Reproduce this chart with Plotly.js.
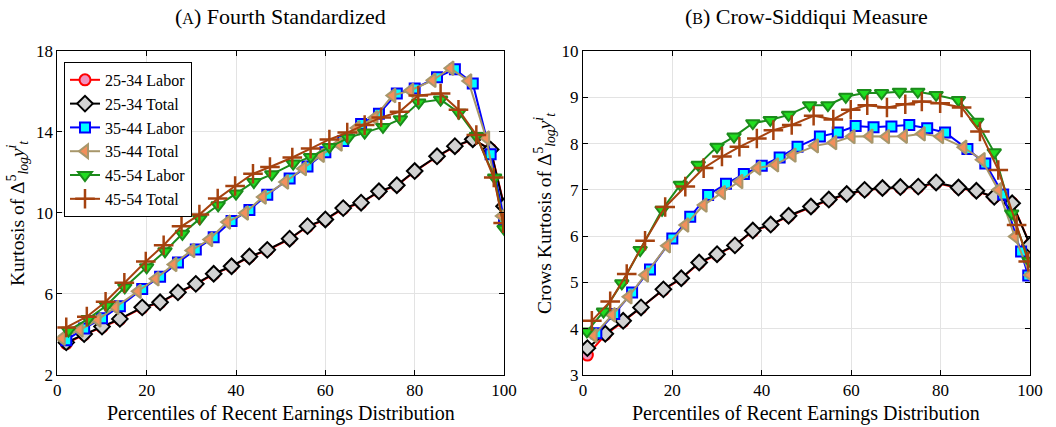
<!DOCTYPE html>
<html><head><meta charset="utf-8">
<script src="https://cdn.plot.ly/plotly-3.0.1.min.js"></script>
<style>html,body{margin:0;padding:0;background:#fff}#chart{width:1056px;height:427px}</style>
</head><body><div id="chart"></div>
<script>
// ---------- Panel A: Fourth Standardized ----------
const seriesNames = ["25-34 Labor","25-34 Total","35-44 Labor","35-44 Total","45-54 Labor","45-54 Total"];
const xTickVals = [0,20,40,60,80,100];
const yTickValsA = [2,6,10,14,18];
const yTickValsB = [3,4,5,6,7,8,9,10];

const A_x_2534 = [2,6,10,14,19,23,27,31,35,39,43,47,52,56,60,64,68,72,76,80,85,89,93,97,100];
const A_lab2534 = [3.55,3.99,4.36,4.75,5.31,5.57,6.06,6.48,6.98,7.35,7.83,8.16,8.71,9.33,9.66,10.22,10.49,11.05,11.35,12.05,12.78,13.28,13.62,13.15,10.40];
const A_tot2534 = [3.61,4.02,4.39,4.77,5.34,5.59,6.08,6.50,7.00,7.37,7.85,8.18,8.73,9.35,9.68,10.24,10.51,11.07,11.37,12.07,12.80,13.30,13.64,13.13,10.33];
const A_lab3544 = [3.72,4.30,4.80,5.40,6.25,6.85,7.55,8.20,8.80,9.60,10.15,10.90,11.70,12.30,13.00,13.55,14.40,14.90,15.90,16.15,16.70,17.10,16.40,12.90,9.70];
const A_x_3544t = [1,5,9,13,18,22,26,30,34,38,42,46,51,55,59,63,67,71,75,79,84,88,92,96,99.5];
const A_tot3544 = [3.81,4.22,4.72,5.34,6.13,6.75,7.46,8.15,8.69,9.55,10.00,10.79,11.53,12.19,12.85,13.40,14.20,14.70,15.80,16.05,16.55,17.15,16.52,13.70,9.85];
const A_x_4554l = [2.5,6.9,11,15.1,20,24.1,28,31.9,36,40,44,48,52.8,56.7,60.9,65.1,68.8,72.9,76.8,80.9,85.8,89.9,93.8,97.9,100];
const A_lab4554 = [4.19,4.77,5.43,6.33,7.32,8.11,8.97,9.72,10.38,10.96,11.53,11.91,12.44,12.77,13.26,13.71,13.97,14.25,14.63,15.45,15.60,14.95,13.80,11.75,9.22];
const A_x_4554t = [2,6.6,10.8,15,19.8,23.8,27.8,31.8,35.9,39.8,43.8,47.6,52.6,56.7,60.9,64.9,68.8,72.5,76.6,80.8,85.8,89.8,93.8,97.7,99.8];
const A_tot4554 = [4.35,4.88,5.62,6.55,7.60,8.41,9.34,9.92,10.71,11.33,11.94,12.27,12.74,13.18,13.63,13.97,14.34,14.72,15.00,15.80,15.90,15.10,13.85,11.75,9.50];

// ---------- Panel B: Crow-Siddiqui Measure ----------
const B_x_2534 = [1,5,9,13,18,22,26,30,34,38,42,46,51,55,59,63,67,71,75,79,84,88,92,96,100];
const B_lab2534 = [3.43,3.87,4.15,4.45,4.84,5.08,5.42,5.60,5.80,6.11,6.24,6.43,6.63,6.78,6.90,6.99,7.03,7.05,7.06,7.15,7.04,6.97,6.84,6.72,5.82];
const B_tot2534 = [3.58,3.89,4.17,4.46,4.85,5.09,5.43,5.61,5.80,6.12,6.25,6.44,6.64,6.79,6.91,7.00,7.04,7.06,7.07,7.16,7.05,6.98,6.85,6.71,5.81];
const B_x_3544l = [3,7,11,15,20,24,28,32,36,40,44,48,53,57,61,65,69,73,77,81,86,90,94,98,99.6];
const B_lab3544 = [3.90,4.32,4.78,5.28,5.95,6.42,6.89,7.13,7.34,7.52,7.70,7.93,8.15,8.24,8.38,8.35,8.37,8.40,8.33,8.24,7.88,7.57,6.90,5.67,5.15];
const B_x_3544t = [2.4,6.5,10.2,13.9,18.8,22.9,27,31.1,35,39,43,46.9,51.9,56,60.1,64.1,67.8,71.8,75.8,79.9,85.1,89.2,92.9,96.6,100];
const B_tot3544 = [3.85,4.30,4.69,5.16,5.79,6.24,6.67,6.94,7.18,7.47,7.54,7.75,7.95,8.02,8.15,8.16,8.15,8.16,8.21,8.15,7.92,7.65,7.00,5.99,5.16];
const B_x_4554l = [0.9,4.6,8.7,12.8,17.7,21.8,25.8,30,33.8,38,41.9,46,50.7,54.8,58.8,62.9,66.8,70.8,74.9,79,84,88.1,92,95.9,99.8];
const B_lab4554 = [3.94,4.37,4.98,5.70,6.57,7.11,7.54,7.93,8.15,8.44,8.51,8.62,8.83,8.83,9.01,9.09,9.09,9.12,9.12,9.05,8.94,8.47,7.81,6.49,5.47];
const B_x_4554t = [2,6.1,9.8,13.9,18.4,22.9,27,31.1,35,38.9,42.6,46.7,51.6,56,59.9,63.6,68,72.1,75.8,79.9,84.7,88.8,92.9,97,99.6];
const B_tot4554 = [4.17,4.59,5.18,5.90,6.63,7.07,7.47,7.72,7.93,8.11,8.29,8.40,8.60,8.52,8.73,8.83,8.78,8.85,8.91,8.87,8.78,8.26,7.43,6.24,5.45];

const styles = [
  {line:'#ff0000', fill:'#f291bd', symbol:'circle', size:11},
  {line:'#000000', fill:'#d2d2d2', symbol:'diamond', size:12},
  {line:'#0000ff', fill:'#00ffff', symbol:'square', size:10},
  {line:'#a8976b', fill:'#f2905c', symbol:'triangle-left', size:12},
  {line:'#1b8c1b', fill:'#20dd20', symbol:'triangle-down', size:12},
  {line:'#a5420f', fill:'#a5420f', symbol:'cross-thin', size:14}
];

function mk(i, x, y, xa, ya, show) {
  const s = styles[i];
  const isCross = s.symbol === 'cross-thin';
  return {
    type:'scatter', mode:'lines+markers', name:seriesNames[i], x:x, y:y,
    xaxis:xa, yaxis:ya, showlegend:show,
    line:{color:s.line, width:2},
    marker:{symbol:s.symbol, size:s.size, color:s.fill,
            line:{color:s.line, width:isCross?2.5:2}}
  };
}

const traces = [
  mk(0, A_x_2534, A_lab2534, 'x', 'y', true),
  mk(1, A_x_2534, A_tot2534, 'x', 'y', true),
  mk(2, A_x_2534, A_lab3544, 'x', 'y', true),
  mk(3, A_x_3544t, A_tot3544, 'x', 'y', true),
  mk(4, A_x_4554l, A_lab4554, 'x', 'y', true),
  mk(5, A_x_4554t, A_tot4554, 'x', 'y', true),
  mk(0, B_x_2534, B_lab2534, 'x2', 'y2', false),
  mk(1, B_x_2534, B_tot2534, 'x2', 'y2', false),
  mk(2, B_x_3544l, B_lab3544, 'x2', 'y2', false),
  mk(3, B_x_3544t, B_tot3544, 'x2', 'y2', false),
  mk(4, B_x_4554l, B_lab4554, 'x2', 'y2', false),
  mk(5, B_x_4554t, B_tot4554, 'x2', 'y2', false)
];

const FONT = 'Liberation Serif, DejaVu Serif, serif';
const axisBase = {
  showline:true, linecolor:'#000', linewidth:1, mirror:'ticks',
  ticks:'inside', ticklen:5, tickcolor:'#000', tickwidth:1,
  showgrid:true, gridcolor:'#e3e3e3', gridwidth:1, zeroline:false,
  tickfont:{family:FONT, size:17, color:'#000'}, automargin:false, fixedrange:true
};
const yTitle = 'Kurtosis of Δ<sup>5</sup><sub><i>log</i></sub><i>y</i><sup><i>i</i></sup><sub><i>t</i></sub>';

const layout = {
  width:1056, height:427,
  margin:{l:0, r:0, t:0, b:0},
  paper_bgcolor:'#fff', plot_bgcolor:'#fff',
  font:{family:FONT, color:'#000'},
  xaxis:Object.assign({}, axisBase, {domain:[0.0543,0.4773], range:[0,100], tickvals:xTickVals, anchor:'y'}),
  yaxis:Object.assign({}, axisBase, {domain:[0.1218,0.8806], range:[2,18], tickvals:yTickValsA, anchor:'x'}),
  xaxis2:Object.assign({}, axisBase, {domain:[0.552,0.9754], range:[0,100], tickvals:xTickVals, anchor:'y2'}),
  yaxis2:Object.assign({}, axisBase, {domain:[0.1218,0.8806], range:[3,10], tickvals:yTickValsB, anchor:'x2'}),
  showlegend:true,
  legend:{x:0.0606, y:0.855, xanchor:'left', yanchor:'top', bgcolor:'#fff',
          bordercolor:'#000', borderwidth:1, font:{family:FONT, size:16, color:'#000'},
          tracegroupgap:0, itemwidth:30},
  annotations:[
    {text:'(<span style="font-size:16px">A</span>) Fourth Standardized', xref:'paper', yref:'paper',
     x:0.2658, y:0.962, xanchor:'center', yanchor:'middle', showarrow:false, font:{family:FONT, size:22}},
    {text:'(<span style="font-size:16px">B</span>) Crow-Siddiqui Measure', xref:'paper', yref:'paper',
     x:0.7637, y:0.962, xanchor:'center', yanchor:'middle', showarrow:false, font:{family:FONT, size:22}},
    {text:'Percentiles of Recent Earnings Distribution', xref:'paper', yref:'paper',
     x:0.2658, y:0.031, xanchor:'center', yanchor:'middle', showarrow:false, font:{family:FONT, size:20}},
    {text:'Percentiles of Recent Earnings Distribution', xref:'paper', yref:'paper',
     x:0.7637, y:0.031, xanchor:'center', yanchor:'middle', showarrow:false, font:{family:FONT, size:20}},
    {text:yTitle, xref:'paper', yref:'paper', x:18/1056, y:0.5012, textangle:-90,
     xanchor:'center', yanchor:'middle', showarrow:false, font:{family:FONT, size:19.5}},
    {text:'Crows ' + yTitle, xref:'paper', yref:'paper', x:545/1056, y:0.5012, textangle:-90,
     xanchor:'center', yanchor:'middle', showarrow:false, font:{family:FONT, size:19.5}}
  ]
};

Plotly.newPlot('chart', traces, layout, {staticPlot:true, displayModeBar:false});
</script></body></html>
